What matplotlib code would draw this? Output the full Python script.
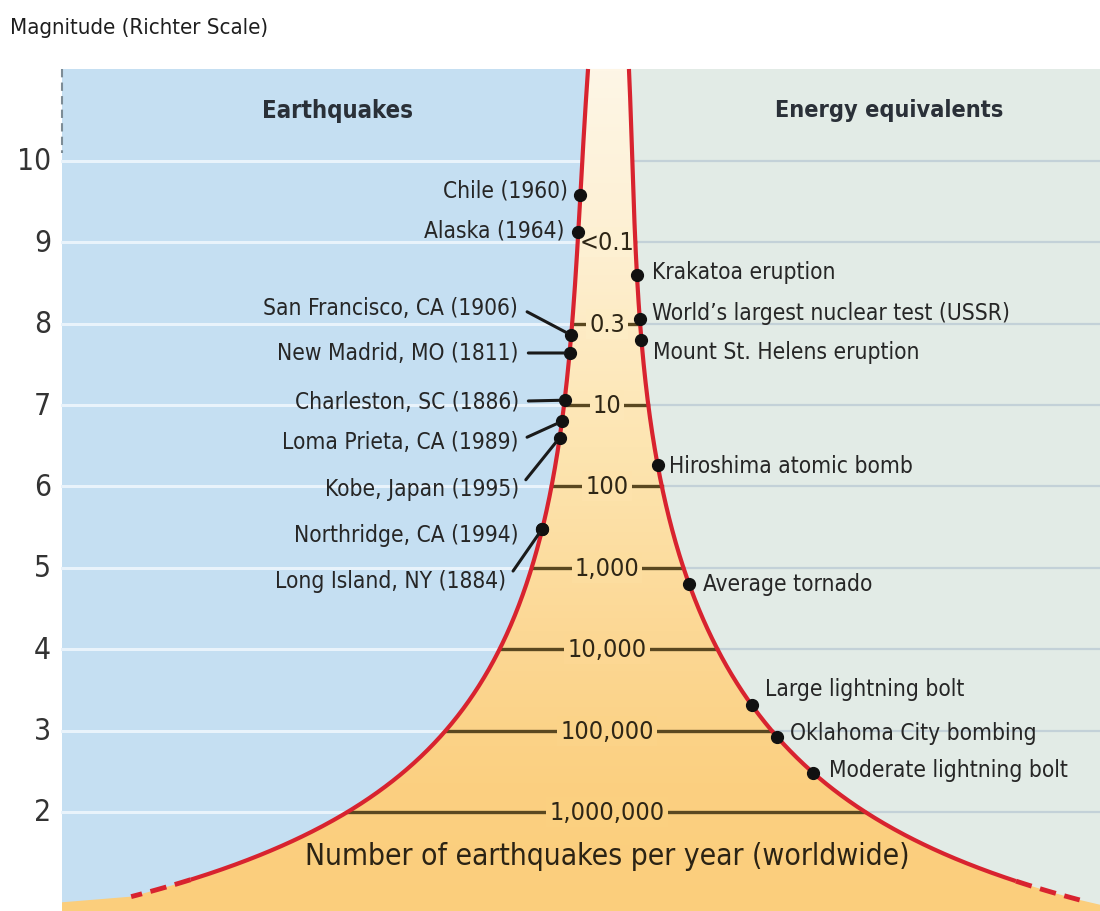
import matplotlib
matplotlib.use('Agg')
import matplotlib.pyplot as plt
import numpy as np
from matplotlib import font_manager
from matplotlib.colors import LinearSegmentedColormap
from matplotlib.patches import Polygon

# ---- data ----
magnitudes = [10, 9, 8, 7, 6, 5, 4, 3, 2]

count_mags = [9, 8, 7, 6, 5, 4, 3, 2]
count_labels = ['<0.1', '0.3', '10', '100', '1,000', '10,000', '100,000', '1,000,000']

# funnel edges (horizontal position vs magnitude), top to bottom
left_edge_mag = [11.13, 9.58, 9.0, 7.86, 7.64, 7.05, 6.60, 6.0, 5.48, 5.02, 4.0, 3.0, 2.04, 1.39, 1.14, 0.99]
left_edge_x = [588, 580.5, 578, 571, 569, 564, 559, 554, 543, 532, 497, 445, 353, 250, 190, 128]
right_edge_mag = [11.13, 9.0, 8.60, 8.06, 7.80, 7.0, 6.26, 6.0, 5.02, 4.80, 4.0, 3.31, 2.92, 2.48, 2.04, 1.70,
                  1.42, 1.12, 0.96]
right_edge_x = [629, 634.5, 637, 640, 643, 648, 657, 661, 683, 689, 716, 755, 780, 816, 860, 900, 950, 1017, 1083]

quake_names = ['Chile (1960)', 'Alaska (1964)', 'San Francisco, CA (1906)', 'New Madrid, MO (1811)',
               'Charleston, SC (1886)', 'Loma Prieta, CA (1989)', 'Kobe, Japan (1995)',
               'Northridge, CA (1994)', 'Long Island, NY (1884)']
quake_mags = [9.58, 9.13, 7.86, 7.64, 7.06, 6.80, 6.60, 5.48, 5.48]

energy_names = ['Krakatoa eruption', "World\u2019s largest nuclear test (USSR)", 'Mount St. Helens eruption',
                'Hiroshima atomic bomb', 'Average tornado', 'Large lightning bolt',
                'Oklahoma City bombing', 'Moderate lightning bolt']
energy_mags = [8.60, 8.06, 7.80, 6.26, 4.80, 3.31, 2.92, 2.48]

# ---- layout (label offsets in pixels, leader line yes/no) ----
quake_offsets = [(-13, 5), (-14, 2), (-53, 28), (-51, 0), (-46, -1), (-44, -20), (-41, -51), (-24, -6), (-36, -52)]
quake_leader = [False, False, True, True, True, True, True, False, True]
energy_offsets = [(15, 3), (12, 6), (12, -12), (11, 0), (14, 1), (13, 17), (13, 5), (16, 3)]

# look for a narrow / condensed face, else fall back to Liberation Sans with smaller sizes
condensed = None
for f in font_manager.fontManager.ttflist:
    if f.style != 'normal':
        continue
    if 'Narrow' in f.name or 'Condensed' in f.name or f.stretch in ('condensed', 'semi-condensed', 'extra-condensed'):
        if condensed is None or 'Liberation' in f.name:
            condensed = f.name
if condensed:
    FONT, STRETCH, S = condensed, 'condensed', 0.86
else:
    FONT, STRETCH, S = 'Liberation Sans', 'normal', 0.76
plt.rcParams['font.family'] = [FONT, 'DejaVu Sans']
plt.rcParams['font.stretch'] = STRETCH

TXT = '#262626'
RED = '#d8232f'
BLUE = '#c5dff2'
GREY = '#e2ebe6'
mid = 607


def edge(mags, xs, side):
    # smooth the read points: polynomial in log half-width, run out to the last read x
    w = np.log(np.abs(np.asarray(xs, float) - mid))
    p = np.polyfit(mags, w, 5)
    mm = np.linspace(max(mags), min(mags) - 0.25, 900)
    xx = mid + side * np.exp(np.polyval(p, mm))
    keep = np.abs(xx - mid) <= abs(xs[-1] - mid)
    return xx[keep], mm[keep]


lx, lm = edge(left_edge_mag, left_edge_x, -1)
rx, rm = edge(right_edge_mag, right_edge_x, 1)


def at(mag, cx, cm):
    return np.interp(mag, cm[::-1], cx[::-1])


fig = plt.figure(figsize=(11, 9.12), dpi=100)
ax = fig.add_axes([0, 0, 1, 1])
ymin, ymax = 0.783, 11.99
ax.set_xlim(0, 1100)
ax.set_ylim(ymin, ymax)
ax.axis('off')

top = 11.13
# background panels
ax.fill_between([62, mid], ymin, top, color=BLUE, lw=0, zorder=0)
ax.fill_between([mid, 1100], ymin, top, color=GREY, lw=0, zorder=0)
ax.plot([62, 62], [top, 10.1], color='#7d8c96', lw=1.5, ls=(0, (4, 2.5)), zorder=1)

for m in magnitudes:
    ax.plot([62, mid], [m, m], color='#e9f3fb', lw=2.2, zorder=1)
    ax.plot([mid, 1100], [m, m], color='#c3d1d8', lw=1.6, zorder=1)

# funnel fill with vertical gradient
cmap = LinearSegmentedColormap.from_list('funnel', [(0, '#fbce7c'), (0.15, '#fbd081'), (0.33, '#fcd895'),
                                                    (0.55, '#fde5b1'), (0.8, '#fdf0d3'), (1, '#fef6e6')])
poly_x = np.concatenate([[62, 62], lx[::-1], rx, [1100, 1100]])
poly_m = np.concatenate([[ymin, 0.89], lm[::-1], rm, [0.86, ymin]])
funnel = Polygon(np.column_stack([poly_x, poly_m]), closed=True, facecolor='none', edgecolor='none')
ax.add_patch(funnel)
grad = np.linspace(0, 1, 256)[:, None]
img = ax.imshow(grad, extent=[62, 1100, ymin, top], origin='lower', cmap=cmap, aspect='auto', zorder=2)
img.set_clip_path(funnel)

# count lines and labels
for m, lab in zip(count_mags, count_labels):
    x0, x1 = at(m, lx, lm), at(m, rx, rm)
    ax.plot([x0, x1], [m, m], color='#5a4820', lw=2.4, zorder=3)
    face = cmap((m - ymin) / (top - ymin))
    ax.text(mid, m, lab, ha='center', va='center', fontsize=21 * S, color='#2e2616', zorder=4,
            bbox=dict(boxstyle='square,pad=0.12', fc=face, ec='none'))

# red curves: solid, then dashed tail
for cx, cm, cut in [(lx, lm, 190), (rx, rm, 1017)]:
    solid = cx >= cut if cut < 600 else cx <= cut
    ax.plot(cx[solid], cm[solid], color=RED, lw=3, zorder=5, solid_capstyle='butt')
    k = np.argmax(~solid)
    ax.plot(cx[k - 1:], cm[k - 1:], color=RED, lw=3.5, ls=(0, (3.4, 1.8)), zorder=5)

# earthquakes (left)
for name, m, off, lead in zip(quake_names, quake_mags, quake_offsets, quake_leader):
    x = at(m, lx, lm)
    ax.plot(x, m, 'o', color='#111111', ms=8.5, zorder=6)
    arrow = dict(arrowstyle='-', color='#1a1a1a', lw=2.2, relpos=(1, 0.5), shrinkA=5, shrinkB=4) if lead else None
    ax.annotate(name, (x, m), xytext=off, textcoords='offset pixels', ha='right', va='center',
                fontsize=19 * S, color=TXT, arrowprops=arrow, zorder=6)

# energy equivalents (right)
for name, m, off in zip(energy_names, energy_mags, energy_offsets):
    x = at(m, rx, rm)
    ax.plot(x, m, 'o', color='#111111', ms=8.5, zorder=6)
    ax.annotate(name, (x, m), xytext=off, textcoords='offset pixels', ha='left', va='center',
                fontsize=19 * S, color=TXT, zorder=6)

# y tick labels
for m in magnitudes:
    ax.text(51, m, str(m), ha='right', va='center', fontsize=25 * S, color='#333333')

ax.text(338, 10.63, 'Earthquakes', ha='center', va='center', fontsize=20 * S, fontweight='bold', color='#2a3038')
ax.text(889, 10.63, 'Energy equivalents', ha='center', va='center', fontsize=20 * S * 0.98, fontweight='bold',
        color='#2a3038')
ax.text(607, 1.47, 'Number of earthquakes per year (worldwide)', ha='center', va='center',
        fontsize=25 * S, color='#2b2314', zorder=6)
ax.text(10, 11.64, 'Magnitude (Richter Scale)', ha='left', va='center', fontsize=18 * S * 1.03, color='#1e1e1e')

fig.savefig('out.png', dpi=100)
